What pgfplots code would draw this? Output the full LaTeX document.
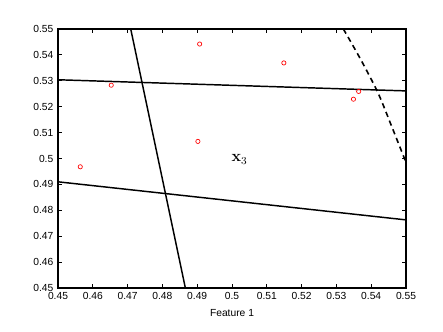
\documentclass[border=0pt]{standalone}
\usepackage[no-math]{fontspec}
\usepackage{pgfplots}
\pgfplotsset{compat=1.18}
\newfontfamily\helv{Liberation Sans}
\begin{document}
\begin{tikzpicture}
\path[use as bounding box] (-43.5pt,-33pt) rectangle (288.75pt,216pt);
\begin{axis}[
  at={(0pt,0pt)}, anchor=south west,
  scale only axis, width=261pt, height=194.25pt,
  xmin=0.45, xmax=0.55, ymin=0.45, ymax=0.55,
  xtick={0.45,0.46,0.47,0.48,0.49,0.5,0.51,0.52,0.53,0.54,0.55},
  ytick={0.45,0.46,0.47,0.48,0.49,0.5,0.51,0.52,0.53,0.54,0.55},
  scaled ticks=false,
  /pgf/number format/.cd, fixed, precision=2, assume math mode=true, /pgfplots/.cd,
  tick align=inside, major tick length=3pt,
  tick style={black, line width=0.6pt},
  axis line style={line width=1pt},
  ticklabel style={font=\helv\fontsize{7.7}{9}\selectfont},
  xlabel={Feature 1},
  xlabel style={font=\helv\fontsize{7.7}{9}\selectfont},
]
\addplot[black, line width=1.1pt] coordinates {(0.45,0.5304) (0.55,0.5261)};
\addplot[black, line width=1.1pt] coordinates {(0.45,0.4910) (0.55,0.4763)};
\addplot[black, line width=1.1pt] coordinates {(0.4709,0.55) (0.4866,0.45)};
\addplot[black, line width=1.2pt, dash pattern=on 4pt off 3pt, smooth] coordinates {(0.5320,0.5500) (0.5370,0.5382) (0.5420,0.5252) (0.5460,0.5120) (0.5500,0.4985)};
\addplot[only marks, mark=o, red, mark size=1.6pt, mark options={line width=0.5pt}] coordinates {
(0.4564,0.4968) (0.4653,0.5283) (0.4907,0.5442) (0.4902,0.5066) (0.5149,0.5369) (0.5349,0.5229) (0.5364,0.5259)};
\node[anchor=base, font=\fontsize{11.5}{13}\selectfont] at (axis cs:0.5022,0.4988) {$\mathbf{x}_3$};
\end{axis}
\end{tikzpicture}
\end{document}
